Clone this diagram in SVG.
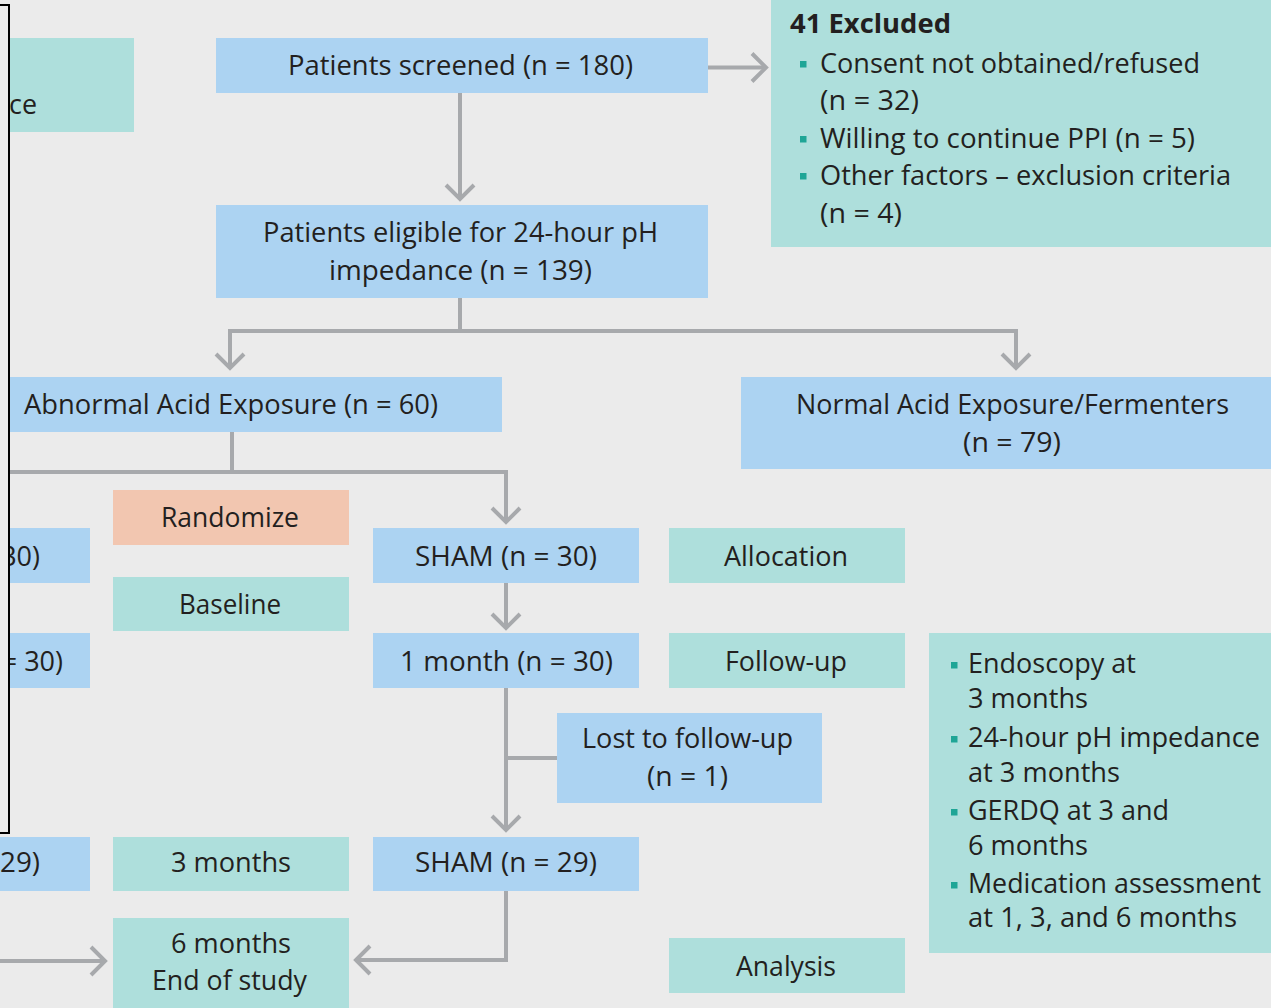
<svg xmlns="http://www.w3.org/2000/svg" width="1271" height="1008" viewBox="0 0 1271 1008">
<defs>
<style>
.bg{fill:#ebebeb}
.blue{fill:#acd3f2}
.teal{fill:#aedfdc}
.salmon{fill:#f2c6b0}
.t{font-family:"Open Sans","Noto Sans","Liberation Sans",sans-serif;font-size:27px;fill:#231f20}
.c{text-anchor:middle}
.e{text-anchor:end}
.b{font-weight:bold}
.bul{fill:#1fa596}
.conn{fill:none;stroke:#a7a9ac;stroke-width:4}
</style>
<marker id="ah" markerUnits="userSpaceOnUse" viewBox="-20 -20 40 40" markerWidth="40" markerHeight="40" refX="0" refY="0" orient="auto">
<path d="M-14,-14 L0,0 L-14,14" fill="none" stroke="#a7a9ac" stroke-width="4"/>
</marker>
</defs>
<rect class="bg" x="0" y="0" width="1271" height="1008"/>

<g id="connectors">
<path class="conn" d="M460,93 V199" marker-end="url(#ah)"/>
<path class="conn" d="M708,67.5 H766" marker-end="url(#ah)"/>
<path class="conn" d="M460,298 V331"/>
<path class="conn" d="M460,331 H230 V368" marker-end="url(#ah)"/>
<path class="conn" d="M460,331 H1016 V368" marker-end="url(#ah)"/>
<path class="conn" d="M232,432 V472"/>
<path class="conn" d="M0,472 H506 V522" marker-end="url(#ah)"/>
<path class="conn" d="M506,583 V628" marker-end="url(#ah)"/>
<path class="conn" d="M506,688 V830" marker-end="url(#ah)"/>
<path class="conn" d="M506,758 H557"/>
<path class="conn" d="M506,891 V960 H356" marker-end="url(#ah)"/>
<path class="conn" d="M0,961 H105" marker-end="url(#ah)"/>
</g>

<g id="node-left-top">
<rect class="teal" x="0" y="38" width="134" height="94"/>
<text class="t" x="9" y="114" textLength="28" lengthAdjust="spacingAndGlyphs">ce</text>
</g>

<g id="node-screened">
<rect class="blue" x="216" y="38" width="492" height="55"/>
<text class="t" x="288" y="75" textLength="345" lengthAdjust="spacingAndGlyphs">Patients screened (n = 180)</text>
</g>

<g id="node-excluded">
<rect class="teal" x="771" y="0" width="500" height="247"/>
<text class="t b" x="790" y="33" textLength="161" lengthAdjust="spacingAndGlyphs">41 Excluded</text>
<rect class="bul" x="800" y="61" width="6.5" height="6.5"/>
<text class="t" x="820" y="73" textLength="380" lengthAdjust="spacingAndGlyphs">Consent not obtained/refused</text>
<text class="t" x="820" y="110" textLength="99" lengthAdjust="spacingAndGlyphs">(n = 32)</text>
<rect class="bul" x="800" y="136" width="6.5" height="6.5"/>
<text class="t" x="820" y="148" textLength="375" lengthAdjust="spacingAndGlyphs">Willing to continue PPI (n = 5)</text>
<rect class="bul" x="800" y="173" width="6.5" height="6.5"/>
<text class="t" x="820" y="185" textLength="411" lengthAdjust="spacingAndGlyphs">Other factors – exclusion criteria</text>
<text class="t" x="820" y="223" textLength="82" lengthAdjust="spacingAndGlyphs">(n = 4)</text>
</g>

<g id="node-eligible">
<rect class="blue" x="216" y="205" width="492" height="93"/>
<text class="t" x="263" y="242" textLength="395" lengthAdjust="spacingAndGlyphs">Patients eligible for 24-hour pH</text>
<text class="t" x="329" y="280" textLength="263" lengthAdjust="spacingAndGlyphs">impedance (n = 139)</text>
</g>

<g id="node-abnormal">
<rect class="blue" x="0" y="377" width="502" height="55"/>
<text class="t" x="24" y="414" textLength="414" lengthAdjust="spacingAndGlyphs">Abnormal Acid Exposure (n = 60)</text>
</g>

<g id="node-normal">
<rect class="blue" x="741" y="377" width="530" height="92"/>
<text class="t" x="796" y="414" textLength="433" lengthAdjust="spacingAndGlyphs">Normal Acid Exposure/Fermenters</text>
<text class="t" x="963" y="452" textLength="98" lengthAdjust="spacingAndGlyphs">(n = 79)</text>
</g>

<g id="node-randomize">
<rect class="salmon" x="113" y="490" width="236" height="55"/>
<text class="t" x="161" y="527" textLength="138" lengthAdjust="spacingAndGlyphs">Randomize</text>
</g>

<g id="node-baseline">
<rect class="teal" x="113" y="577" width="236" height="54"/>
<text class="t" x="179" y="614" textLength="102" lengthAdjust="spacingAndGlyphs">Baseline</text>
</g>

<g id="node-left-30a">
<rect class="blue" x="0" y="528" width="90" height="55"/>
<text class="t e" x="40" y="566">30)</text>
</g>

<g id="node-left-30b">
<rect class="blue" x="0" y="633" width="90" height="55"/>
<text class="t e" x="63" y="671">= 30)</text>
</g>

<g id="node-left-29">
<rect class="blue" x="0" y="837" width="90" height="54"/>
<text class="t" x="0" y="872" textLength="40" lengthAdjust="spacingAndGlyphs">29)</text>
</g>

<g id="node-sham30">
<rect class="blue" x="373" y="528" width="266" height="55"/>
<text class="t" x="415" y="566" textLength="182" lengthAdjust="spacingAndGlyphs">SHAM (n = 30)</text>
</g>

<g id="node-allocation">
<rect class="teal" x="669" y="528" width="236" height="55"/>
<text class="t" x="724" y="566" textLength="124" lengthAdjust="spacingAndGlyphs">Allocation</text>
</g>

<g id="node-1month">
<rect class="blue" x="373" y="633" width="266" height="55"/>
<text class="t" x="400" y="671" textLength="213" lengthAdjust="spacingAndGlyphs">1 month (n = 30)</text>
</g>

<g id="node-followup">
<rect class="teal" x="669" y="633" width="236" height="55"/>
<text class="t" x="725" y="671" textLength="122" lengthAdjust="spacingAndGlyphs">Follow-up</text>
</g>

<g id="node-lost">
<rect class="blue" x="557" y="713" width="265" height="90"/>
<text class="t" x="582" y="748" textLength="211" lengthAdjust="spacingAndGlyphs">Lost to follow-up</text>
<text class="t" x="647" y="786" textLength="81" lengthAdjust="spacingAndGlyphs">(n = 1)</text>
</g>

<g id="node-assessments">
<rect class="teal" x="929" y="633" width="342" height="320"/>
<rect class="bul" x="951" y="662" width="6.5" height="6.5"/>
<text class="t" x="968" y="673" textLength="168" lengthAdjust="spacingAndGlyphs">Endoscopy at</text>
<text class="t" x="968" y="708" textLength="120" lengthAdjust="spacingAndGlyphs">3 months</text>
<rect class="bul" x="951" y="736" width="6.5" height="6.5"/>
<text class="t" x="968" y="747" textLength="292" lengthAdjust="spacingAndGlyphs">24-hour pH impedance</text>
<text class="t" x="968" y="782" textLength="152" lengthAdjust="spacingAndGlyphs">at 3 months</text>
<rect class="bul" x="951" y="809" width="6.5" height="6.5"/>
<text class="t" x="968" y="820" textLength="201" lengthAdjust="spacingAndGlyphs">GERDQ at 3 and</text>
<text class="t" x="968" y="855" textLength="120" lengthAdjust="spacingAndGlyphs">6 months</text>
<rect class="bul" x="951" y="882" width="6.5" height="6.5"/>
<text class="t" x="968" y="893" textLength="293" lengthAdjust="spacingAndGlyphs">Medication assessment</text>
<text class="t" x="968" y="927" textLength="269" lengthAdjust="spacingAndGlyphs">at 1, 3, and 6 months</text>
</g>

<g id="node-3months">
<rect class="teal" x="113" y="837" width="236" height="54"/>
<text class="t" x="171" y="872" textLength="120" lengthAdjust="spacingAndGlyphs">3 months</text>
</g>

<g id="node-sham29">
<rect class="blue" x="373" y="837" width="266" height="54"/>
<text class="t" x="415" y="872" textLength="182" lengthAdjust="spacingAndGlyphs">SHAM (n = 29)</text>
</g>

<g id="node-6months">
<rect class="teal" x="113" y="918" width="236" height="90"/>
<text class="t" x="171" y="953" textLength="120" lengthAdjust="spacingAndGlyphs">6 months</text>
<text class="t" x="152" y="990" textLength="155" lengthAdjust="spacingAndGlyphs">End of study</text>
</g>

<g id="node-analysis">
<rect class="teal" x="669" y="938" width="236" height="55"/>
<text class="t" x="736" y="976" textLength="100" lengthAdjust="spacingAndGlyphs">Analysis</text>
</g>

<rect id="frame" x="-10" y="5" width="19" height="828" fill="#ebebeb" stroke="#000" stroke-width="2"/>
</svg>
